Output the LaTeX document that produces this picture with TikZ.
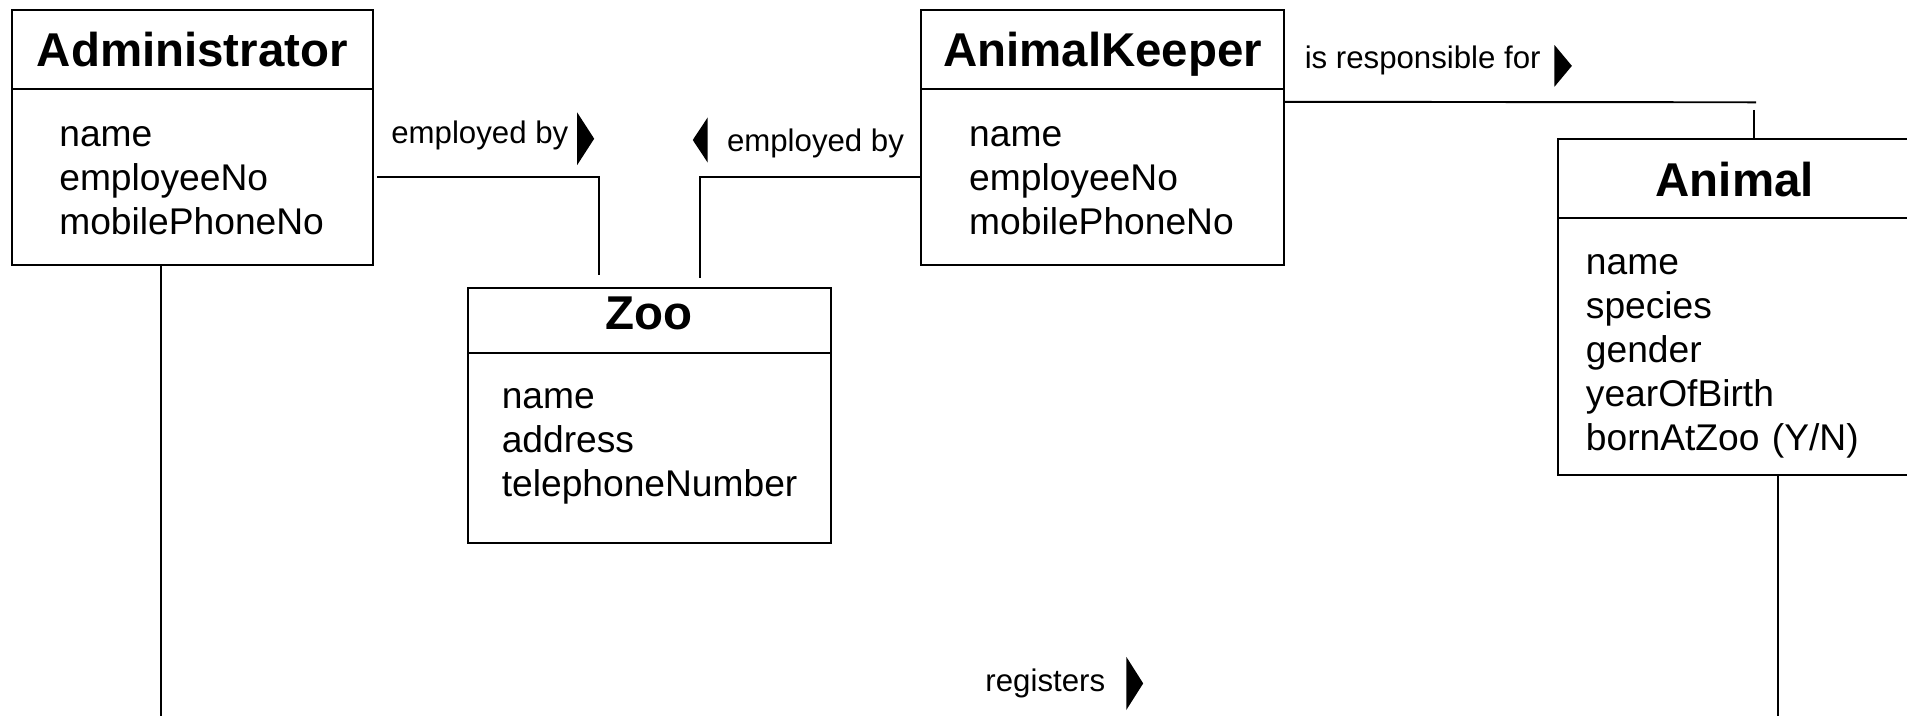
\documentclass[tikz,border=0pt]{standalone}
\usepackage{fontspec}
\setmainfont{Liberation Sans}
\usetikzlibrary{positioning}

\tikzset{
	classhead/.style={draw, rectangle, inner sep=0pt, outer sep=0pt, anchor=north west, font=\fontsize{11.1}{13}\selectfont\bfseries},
	classbody/.style={draw, rectangle, inner sep=0pt, outer sep=0pt},
	attrs/.style={anchor=base west, inner sep=0pt, text width=2.7cm, align=left, font=\fontsize{8.7}{10.3}\selectfont},
	rel/.style={anchor=base west, inner sep=0pt, font=\fontsize{7.3}{8.8}\selectfont}
}

\begin{document}
\begin{tikzpicture}[line width=0.45pt]
	\useasboundingbox (0,0) rectangle (15.68,-5.88);
	\clip (0,0) rectangle (15.68,-5.88);

	% classes
	\node[classhead, minimum width=2.971cm, text height=0.466cm, text depth=0.18cm] (AdmH) at (0.096,-0.082) {Administrator};
	\node[classbody, below=0pt of AdmH, minimum width=2.971cm, minimum height=1.454cm] (AdmB) {};
	\node[attrs] (AdmA) at ([xshift=0.384cm, yshift=-0.476cm]AdmB.north west) {name\\employeeNo\\mobilePhoneNo};

	\node[classhead, right=4.507cm of AdmH, minimum width=2.984cm, text height=0.466cm, text depth=0.18cm] (AKH) {AnimalKeeper};
	\node[classbody, below=0pt of AKH, minimum width=2.984cm, minimum height=1.454cm] (AKB) {};
	\node[attrs] (AKA) at ([xshift=0.387cm, yshift=-0.474cm]AKB.north west) {name\\employeeNo\\mobilePhoneNo};

	\node[classhead, minimum width=2.98cm, text height=0.343cm, text depth=0.187cm] (ZooH) at (3.85,-2.37) {Zoo};
	\node[classbody, below=0pt of ZooH, minimum width=2.98cm, minimum height=1.568cm] (ZooB) {};
	\node[attrs] (ZooA) at ([xshift=0.268cm, yshift=-0.457cm]ZooB.north west) {name\\address\\telephoneNumber};

	\node[classhead, minimum width=2.9cm, text height=0.471cm, text depth=0.173cm] (AnimalH) at (12.813,-1.146) {Animal};
	\node[classbody, below=0pt of AnimalH, minimum width=2.9cm, minimum height=2.112cm] (AnimalB) {};
	\node[attrs] (AnimalA) at ([xshift=0.219cm, yshift=-0.467cm]AnimalB.north west) {name\\species\\gender\\yearOfBirth\\bornAtZoo (Y/N)};

	% association names
	\node[rel] (EmpA) at (3.21,-1.179) {employed by};
	\node[rel] (EmpB) at (5.97,-1.247) {employed by};
	\node[rel] (Resp) at (10.72,-0.562) {is responsible for};
	\node[rel] (Reg) at (8.095,-5.687) {registers};

	\fill ([xshift=0.065cm, yshift=0.255cm]EmpA.base east) -- ++(0.14,-0.2165) -- ++(-0.14,-0.2165) -- cycle;
	\fill ([xshift=-0.151cm, yshift=0.282cm]EmpB.base west) -- ++(-0.123,-0.186) -- ++(0.123,-0.186) -- cycle;
	\fill ([xshift=0.106cm, yshift=0.192cm]Resp.base east) -- ++(0.143,-0.1715) -- ++(-0.143,-0.1715) -- cycle;
	\fill ([xshift=0.166cm, yshift=0.287cm]Reg.base east) -- ++(0.139,-0.219) -- ++(-0.139,-0.219) -- cycle;

	% associations
	\draw ([xshift=0.033cm]AdmB.east) -| ([xshift=-0.412cm, yshift=0.11cm]ZooH.north);
	\draw (AKB.west) -| ([xshift=0.416cm, yshift=0.087cm]ZooH.north);

	\coordinate (respA) at (14.44,-0.841);
	\coordinate (respB) at (14.424,-0.904);
	\draw ([yshift=-0.109cm]AKB.north east) -- (respA);
	\draw (respB) -- (AnimalH.north -| respB);

	\coordinate (regL) at (1.325,-5.9);
	\coordinate (regR) at (14.62,-5.9);
	\draw (regL |- AdmB.south) -- (regL);
	\draw (regR |- AnimalB.south) -- (regR);
\end{tikzpicture}
\end{document}
